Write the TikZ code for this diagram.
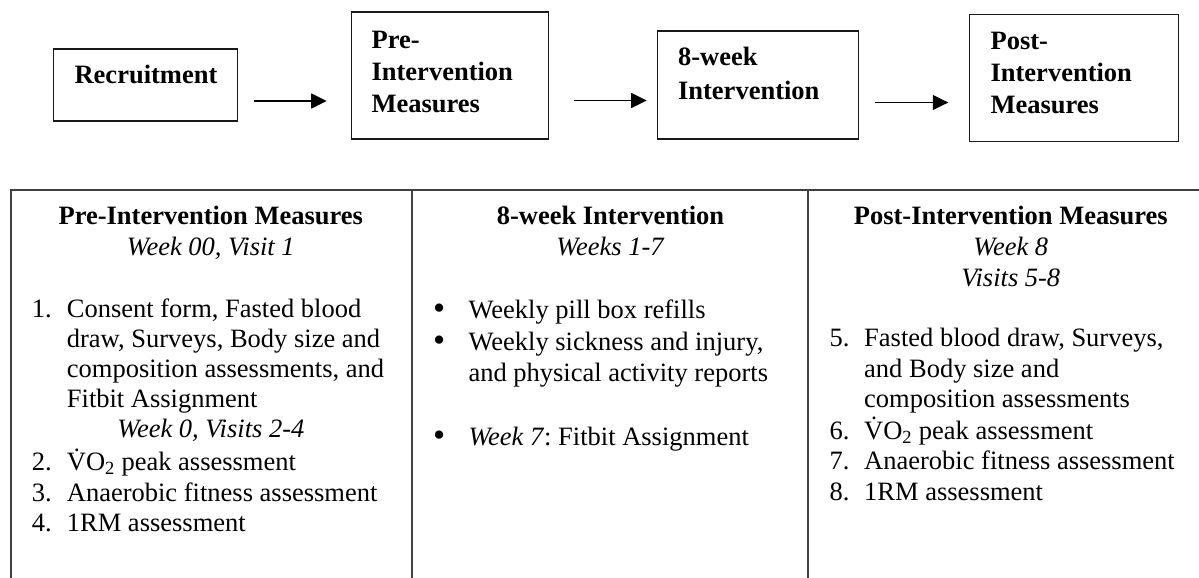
\documentclass[tikz,border=0pt]{standalone}
\usepackage{fontspec}
\usepackage{graphicx}
\setmainfont{Liberation Serif}
\usetikzlibrary{arrows.meta}
\newcommand{\bigbul}{\raisebox{-1.2pt}{\scalebox{1.3}{\textbullet}}}
\frenchspacing
\begin{document}
\begin{tikzpicture}[x=1pt,y=-1pt,
  topbox/.style={draw=black!90, line width=1.2pt, anchor=base west, align=left,
    inner ysep=0pt, font=\bfseries\fontsize{26.5}{32}\selectfont},
  arr/.style={line width=1.1pt, -{Triangle[length=15.5pt,width=15pt]}},
  tbl/.style={draw=black!75, line width=1.6pt},
  head/.style={anchor=base, align=center, inner sep=0pt, font=\fontsize{26.5}{31}\selectfont},
  lst/.style={anchor=base west, inner sep=0pt}
]
\useasboundingbox (0,0) rectangle (1199,578);

% top flow boxes
\node[topbox, inner xsep=21pt, text width=142pt, text height=34.3pt, text depth=37.7pt]
  (rec) at (53,83.3) {Recruitment};
\node[topbox, inner xsep=20pt, text width=157pt, text height=36.3pt, text depth=90.7pt]
  (pre) at (351,48.3) {Pre-\\Intervention\\Measures};
\node[topbox, inner xsep=20.5pt, text width=160pt, text height=34.7pt, text depth=73.3pt,
  font=\bfseries\fontsize{26.5}{34.3}\selectfont]
  (int) at (657,65.7) {8-week\\Intervention};
\node[topbox, inner xsep=21pt, text width=167pt, text height=35.7pt, text depth=91.7pt]
  (post) at (969,50) {Post-\\Intervention\\Measures};

\draw[arr, shorten <=15.3pt, shorten >=24.3pt] (rec.east |- 0,101) -- (pre.west |- 0,101);
\draw[arr, shorten <=24.3pt, shorten >=10.3pt] (pre.east |- 0,100.5) -- (int.west |- 0,100.5);
\draw[arr, shorten <=16pt, shorten >=20.7pt] (int.east |- 0,102.5) -- (post.west |- 0,102.5);

% table frame
\draw[tbl] (10.7,578) -- (10.7,190) -- (1199,190);
\draw[tbl] (411.7,190) -- (411.7,578);
\draw[tbl] (808,190) -- (808,578);

% column 1 (base anchor = last line)
\node[head] (h1) at (210.8,255) {\textbf{Pre-Intervention Measures}\\\textit{Week 00, Visit 1}};
\node[lst, font=\fontsize{26.5}{30}\selectfont] (l1) at (31.7,317) {%
\begin{tabular}[t]{@{}p{35pt}@{}l@{}}
1.& Consent form, Fasted blood\\
& draw, Surveys, Body size and\\
& composition assessments, and\\
& Fitbit Assignment\\
\multicolumn{2}{@{}l@{}}{\makebox[358pt]{\itshape Week 0, Visits 2-4}}\\[2.5pt]
2.& \.{V}O\textsubscript{2} peak assessment\\[0.5pt]
3.& Anaerobic fitness assessment\\[0.5pt]
4.& 1RM assessment
\end{tabular}};

% column 2
\node[head] (h2) at (610.5,255) {\textbf{8-week Intervention}\\\textit{Weeks 1-7}};
\node[lst, font=\fontsize{26.5}{31.7}\selectfont] (l2) at (433,318.3) {%
\begin{tabular}[t]{@{}p{35.3pt}@{}l@{}}
\bigbul& Weekly pill box refills\\
\bigbul& Weekly sickness and injury,\\
& and physical activity reports\\[31.7pt]
\bigbul& \textit{Week 7}:\ Fitbit Assignment
\end{tabular}};

% column 3
\node[head] (h3) at (1010.8,286.7) {\textbf{Post-Intervention Measures}\\\textit{Week 8}\\\textit{Visits 5-8}};
\node[lst, font=\fontsize{26.5}{30.5}\selectfont] (l3) at (829.3,346.7) {%
\begin{tabular}[t]{@{}p{34.7pt}@{}l@{}}
5.& Fasted blood draw, Surveys,\\
& and Body size and\\
& composition assessments\\
6.& \.{V}O\textsubscript{2} peak assessment\\
7.& Anaerobic fitness assessment\\
8.& 1RM assessment
\end{tabular}};
\end{tikzpicture}
\end{document}
